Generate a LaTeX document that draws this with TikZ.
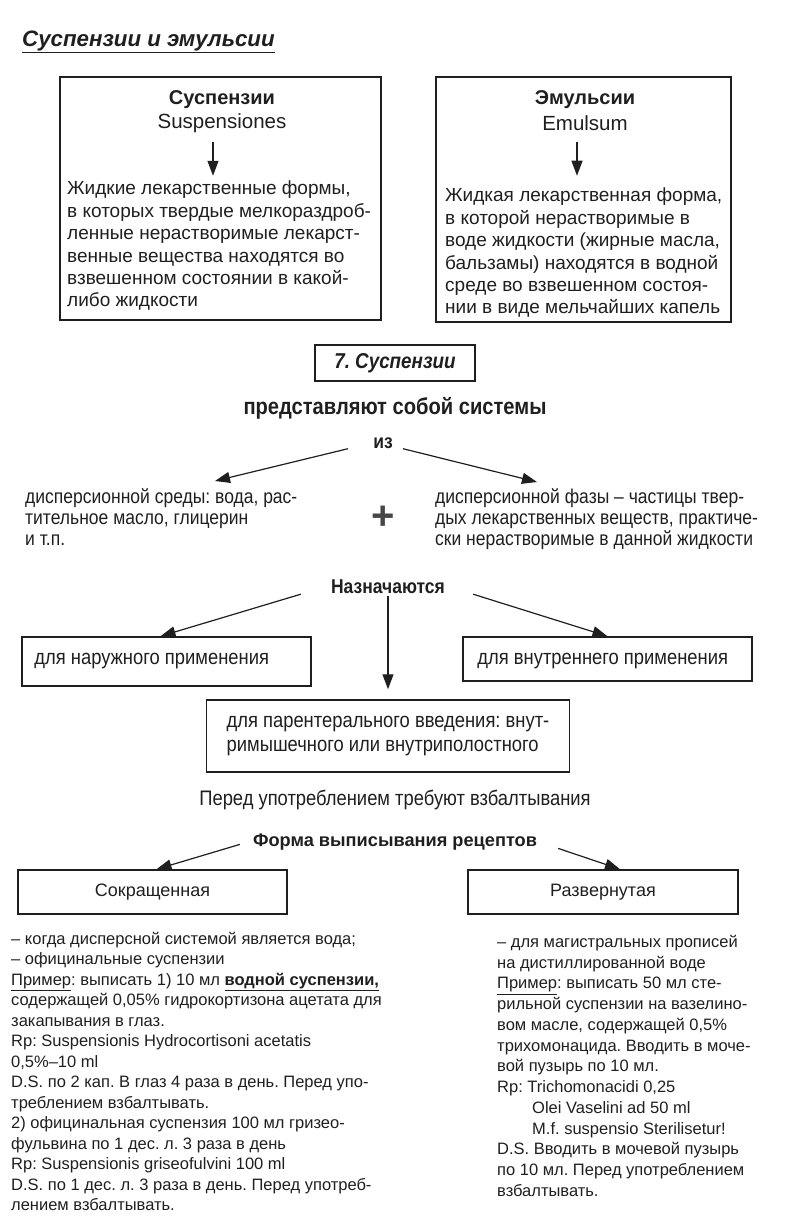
\documentclass[tikz,border=0pt]{standalone}
\usepackage{fontspec}
\setmainfont{Liberation Sans}
\newfontfamily\narrowsans[FakeStretch=0.875]{Liberation Sans}
\usetikzlibrary{arrows.meta,positioning}
\definecolor{ink}{gray}{0.12}

\begin{document}
\frenchspacing
\begin{tikzpicture}[x=1pt,y=-1pt,
	every node/.style={inner sep=0pt, text=ink},
	frame/.style={draw=ink, line width=1.5pt},
	pointer/.style={draw=ink, line width=1.2pt, -{Triangle[length=15pt,width=11pt]}},
	boxtext/.style={font=\fontsize{19}{22.4}\selectfont, align=left, anchor=north west},
	narrowtext/.style={font=\narrowsans\fontsize{20}{21}\selectfont, align=left, anchor=north west},
	boxlabel/.style={font=\narrowsans\fontsize{21}{24}\selectfont, anchor=west},
	rxtext/.style={font=\fontsize{16.5}{#1}\selectfont, align=left, anchor=north west},
	rxtext/.default=20.5]
	\useasboundingbox (0,0) rectangle (788,1219);
	% title
	\node[font=\bfseries\itshape\fontsize{22.3}{26}\selectfont, anchor=west] (title) at (22,42) {\underline{Суспензии и эмульсии}};
	% definitions
	\node[frame, minimum width=321pt, minimum height=243pt] (suspbox) at (220.5,198.5) {};
	\node[font=\bfseries\fontsize{20}{22}\selectfont] (suspname) at (222,100) {Суспензии};
	\node[font=\fontsize{20.5}{22}\selectfont] (susplat) at (222,123) {Suspensiones};
	\node[boxtext] (suspdef) at (67,181) {Жидкие лекарственные формы,\\в которых твердые мелкораздроб-\\ленные нерастворимые лекарст-\\венные вещества находятся во\\взвешенном состоянии в какой-\\либо жидкости};
	\draw[pointer, shorten <=9pt] ([xshift=-9pt]susplat.south) -- ++(0,43);
	\node[frame, minimum width=295pt, minimum height=245pt] (emulsbox) at (583.5,199.5) {};
	\node[font=\bfseries\fontsize{20}{22}\selectfont] (emulsname) at (585,100) {Эмульсии};
	\node[font=\fontsize{20.5}{22}\selectfont] (emulslat) at (585,123) {Emulsum};
	\node[boxtext] (emulsdef) at (445,188) {Жидкая лекарственная форма,\\в которой нерастворимые в\\воде жидкости (жирные масла,\\бальзамы) находятся в водной\\среде во взвешенном состоя-\\нии в виде мельчайших капель};
	\draw[pointer, shorten <=11pt] ([xshift=-8pt]emulslat.south) -- ++(0,45);
	% composition
	\node[frame, minimum width=160pt, minimum height=36pt, font=\narrowsans\bfseries\itshape\fontsize{21.5}{24}\selectfont] (sect) at (395,363) {7. Суспензии};
	\node[font=\narrowsans\bfseries\fontsize{23}{26}\selectfont] (systems) at (395,408) {представляют собой системы};
	\node[font=\narrowsans\bfseries\fontsize{20}{24}\selectfont] (iz) at (383,443) {из};
	\node[narrowtext] (medium) at (25,488) {дисперсионной среды: вода, рас-\\тительное масло, глицерин\\и т.п.};
	\node[narrowtext] (phase) at (435,488) {дисперсионной фазы – частицы твер-\\дых лекарственных веществ, практиче-\\ски нерастворимые в данной жидкости};
	\node[font=\bfseries\fontsize{40}{40}\selectfont, text=black!72] (plus) at (383,518) {+};
	\coordinate (mediumtip) at (215,481);
	\coordinate (phasetip) at (537,482);
	\draw[pointer] ([xshift=-25pt]iz.south west) -- (mediumtip);
	\draw[pointer] ([xshift=10pt]iz.south east) -- (phasetip);
	% use
	\node[font=\narrowsans\bfseries\fontsize{20}{24}\selectfont] (assign) at (388,587) {Назначаются};
	\node[frame, minimum width=289pt, minimum height=49pt] (outer) at (166.5,661.5) {};
	\node[boxlabel] (outerlabel) at ([xshift=13pt]outer.west) {для наружного применения};
	\node[frame, minimum width=289pt, minimum height=44pt] (inner) at (607.5,659) {};
	\node[boxlabel] (innerlabel) at ([xshift=15pt,yshift=-2pt]inner.west) {для внутреннего применения};
	\node[frame, minimum width=363pt, minimum height=72pt, align=left, font=\narrowsans\fontsize{21}{24}\selectfont] (paren) at (388,736) {для парентерального введения: внут-\\римышечного или внутриполостного};
	\draw[pointer] ([xshift=-30pt]assign.south west) -- ([xshift=-6pt]outer.north);
	\draw[pointer, shorten <=2pt] (assign.south) -- ([yshift=10pt]paren.north);
	\draw[pointer] ([xshift=28pt]assign.south east) -- (inner.north);
	\node[font=\narrowsans\fontsize{21}{24}\selectfont] (shake) at (395,800) {Перед употреблением требуют взбалтывания};
	% prescriptions
	\node[font=\bfseries\fontsize{18.2}{20}\selectfont] (form) at (395,842) {Форма выписывания рецептов};
	\node[frame, minimum width=269pt, minimum height=44pt, font=\fontsize{18}{22}\selectfont] (short) at (152.5,892) {Сокращенная};
	\node[frame, minimum width=270pt, minimum height=44pt, font=\fontsize{18}{22}\selectfont] (long) at (603,892) {Развернутая};
	\draw[pointer] ([xshift=-13pt,yshift=6pt]form.south west) -- ([xshift=4pt]short.north);
	\draw[pointer] ([xshift=21pt,yshift=2pt]form.south east) -- ([xshift=17pt]long.north);
	\node[rxtext] (shortrx) at (11,932) {– когда дисперсной системой является вода;\\– официнальные суспензии\\\underline{Пример}: выписать 1) 10 мл \textbf{\underline{водной суспензии,}}\\содержащей 0,05\% гидрокортизона ацетата для\\закапывания в глаз.\\Rp: Suspensionis Hydrocortisoni acetatis\\0,5\%–10 ml\\D.S. по 2 кап. В глаз 4 раза в день. Перед упо-\\треблением взбалтывать.\\2) официнальная суспензия 100 мл гризео-\\фульвина по 1 дес. л. 3 раза в день\\Rp: Suspensionis griseofulvini 100 ml\\D.S. по 1 дес. л. 3 раза в день. Перед употреб-\\лением взбалтывать.};
	\node[rxtext=20.75] (longrx) at (497,935) {– для магистральных прописей\\на дистиллированной воде\\\underline{Пример}: выписать 50 мл сте-\\рильной суспензии на вазелино-\\вом масле, содержащей 0,5\%\\трихомонацида. Вводить в моче-\\вой пузырь по 10 мл.\\Rp: Trichomonacidi 0,25\\\hspace*{35pt}Olei Vaselini ad 50 ml\\\hspace*{35pt}M.f. suspensio Sterilisetur!\\D.S. Вводить в мочевой пузырь\\по 10 мл. Перед употреблением\\взбалтывать.};
\end{tikzpicture}
\end{document}
